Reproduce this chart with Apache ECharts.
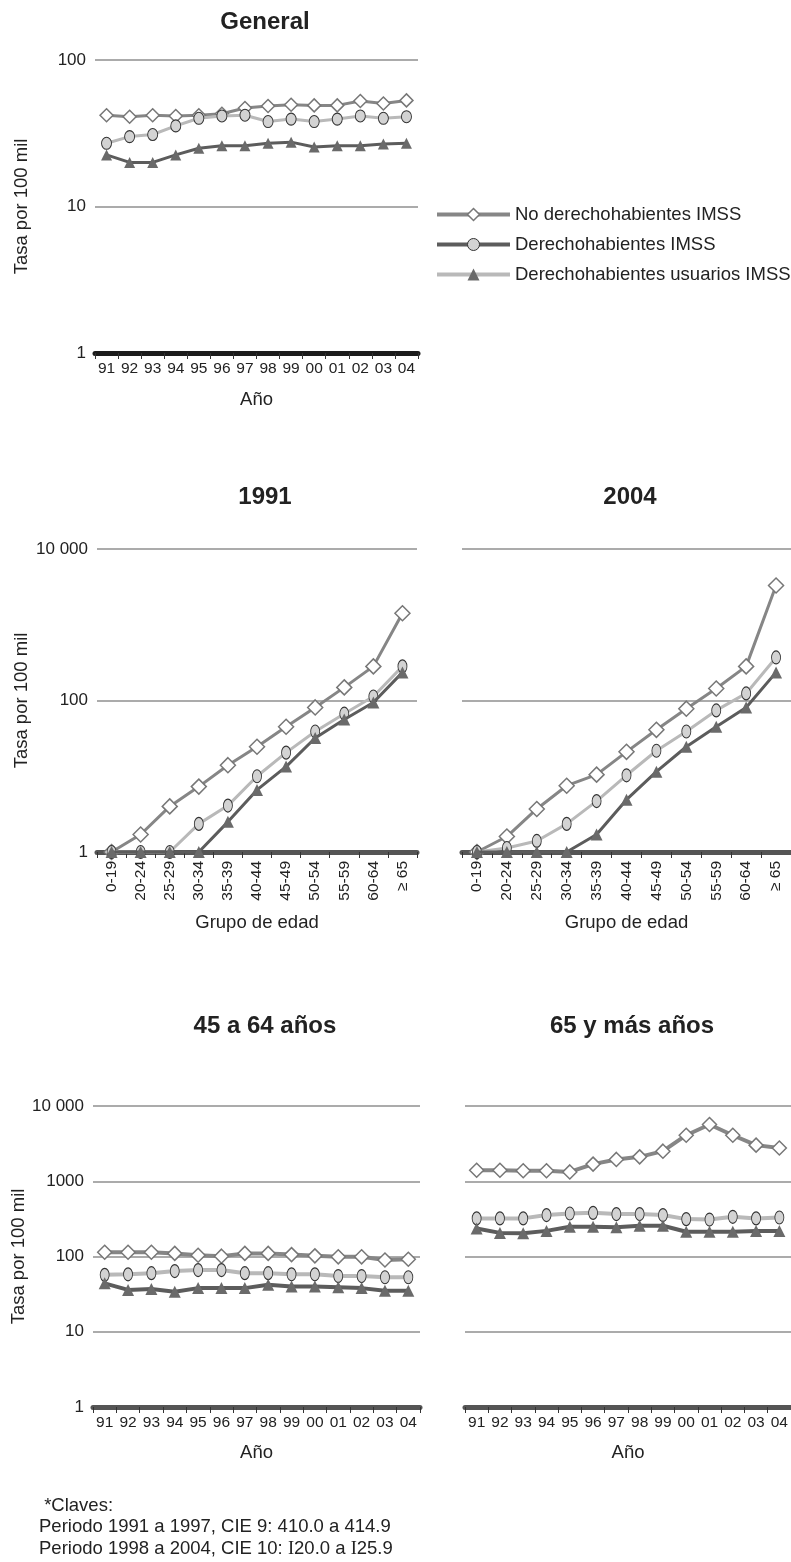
<!DOCTYPE html>
<html>
<head>
<meta charset="UTF-8">
<title>Tasa por 100 mil</title>
<script src="https://cdn.jsdelivr.net/npm/echarts@6/dist/echarts.min.js"></script>
<style>
html, body { margin: 0; padding: 0; background: #fff; }
#main { width: 791px; height: 1562px; }
</style>
</head>
<body>
<div id="main"></div>
<script>
// categorias
var years = ['91', '92', '93', '94', '95', '96', '97', '98', '99', '00', '01', '02', '03', '04'];
var ageGroups = ['0-19', '20-24', '25-29', '30-34', '35-39', '40-44', '45-49', '50-54', '55-59', '60-64', '≥ 65'];
var seriesNames = ['No derechohabientes IMSS', 'Derechohabientes IMSS', 'Derechohabientes usuarios IMSS'];

// General
var noDerGeneral = [42, 41, 42, 41.5, 42, 43, 47, 48.5, 49.5, 49, 49, 52.5, 50.5, 53];
var derGeneral = [27, 30, 31, 35.5, 40, 41.5, 42, 38, 39.5, 38, 39.5, 41.5, 40, 41];
var usuGeneral = [22.5, 20, 20, 22.5, 25, 26, 26, 27, 27.5, 25.5, 26, 26, 26.7, 27];

// 1991 por grupo de edad
var noDer1991 = [1, 1.7, 4, 7.3, 14, 24.5, 45, 81, 149, 282, 1420];
var der1991 = [1, 1, 1, 2.35, 4.1, 10, 20.5, 39, 67, 113, 282];
var usu1991 = [1, 1, 1, 1, 2.5, 6.6, 13.4, 32, 56, 94, 235];

// 2004 por grupo de edad
var noDer2004 = [1, 1.6, 3.7, 7.5, 10.5, 21, 41, 78, 144, 282, 3300];
var der2004 = [1, 1.13, 1.4, 2.35, 4.7, 10.3, 21.7, 39, 74, 124, 370];
var usu2004 = [1, 1, 1, 1, 1.7, 4.9, 11.5, 24.5, 45, 81, 235];

// 45 a 64 años
var noDer4564 = [114, 114, 114, 110, 104, 101, 110, 110, 106, 102, 99, 99, 90, 92];
var der4564 = [57, 58, 60, 64, 66, 66, 60, 60, 58, 58, 55, 55, 53, 53];
var usu4564 = [44, 36, 37, 34, 38, 38, 38, 42, 40, 40, 39, 38, 35, 35];

// 65 y más años
var noDer65 = [1400, 1400, 1380, 1380, 1330, 1690, 1950, 2110, 2510, 4090, 5680, 4090, 3020, 2770];
var der65 = [321, 321, 321, 355, 373, 380, 366, 366, 355, 314, 310, 337, 321, 330];
var usu65 = [236, 206, 203, 219, 248, 248, 244, 256, 256, 213, 213, 213, 219, 219];

var FONT = '"Liberation Sans", Arial, Helvetica, sans-serif';
var TXT = '#222';
var GRIDC = '#ababab';

function fmt(v) {
    var r = Math.round(v);
    return r === 10000 ? '10 000' : String(r);
}

function xAx(i, cats, axColor, rotate, name, gap) {
    return {
        gridIndex: i, type: 'category', data: cats, boundaryGap: true,
        axisLine: { lineStyle: { color: axColor, width: 5 } },
        axisTick: { show: true, length: 6, lineStyle: { color: '#333', width: 1 } },
        axisLabel: { interval: 0, rotate: rotate, fontSize: 15.5, color: TXT, fontFamily: FONT, margin: rotate ? 9 : 8 },
        name: name, nameLocation: 'middle', nameGap: gap,
        nameTextStyle: { fontSize: 18.5, color: TXT, fontFamily: FONT },
        splitLine: { show: false }
    };
}

function yAx(i, base, max, showLabel, gap) {
    return {
        gridIndex: i, type: 'log', logBase: base, min: 1, max: max,
        axisLine: { show: false }, axisTick: { show: false },
        splitLine: { show: true, lineStyle: { color: GRIDC, width: 2 } },
        axisLabel: { show: showLabel, formatter: fmt, fontSize: 17, color: TXT, fontFamily: FONT, margin: 9 },
        name: showLabel ? 'Tasa por 100 mil' : '', nameLocation: 'middle', nameGap: gap,
        nameTextStyle: { fontSize: 18.5, color: TXT, fontFamily: FONT }
    };
}

function trio(i, a, b, c, o) {
    return [
        {
            name: seriesNames[0], type: 'line', xAxisIndex: i, yAxisIndex: i, data: a, clip: false,
            symbol: 'diamond', symbolSize: o.ds,
            lineStyle: { color: '#868686', width: o.lw },
            itemStyle: { color: '#fff', borderColor: '#777', borderWidth: 1.5 }, z: 2
        },
        {
            name: seriesNames[1], type: 'line', xAxisIndex: i, yAxisIndex: i, data: b, clip: false,
            symbol: 'circle', symbolSize: o.cs,
            lineStyle: { color: '#b9b9b9', width: o.lw },
            itemStyle: { color: '#d3d3d3', borderColor: '#333', borderWidth: 1 }, z: 3
        },
        {
            name: seriesNames[2], type: 'line', xAxisIndex: i, yAxisIndex: i, data: c, clip: false,
            symbol: 'triangle', symbolSize: o.ts,
            lineStyle: { color: '#5c5c5c', width: o.lw },
            itemStyle: { color: '#6a6a6a', borderWidth: 0 }, z: 4
        }
    ];
}

var small = { ds: 13, cs: [10, 12], ts: 11, lw: 3 };
var mid = { ds: 15, cs: [9, 13], ts: 12, lw: 3 };
var big = { ds: 14, cs: [9, 13], ts: 12, lw: 4 };

function ttl(text, x, y) {
    return {
        text: text, left: x, top: y, padding: 0, textAlign: 'center', textVerticalAlign: 'middle',
        textStyle: { fontSize: 24, fontWeight: 'bold', color: TXT, fontFamily: FONT }
    };
}

var option = {
    animation: false,
    backgroundColor: '#fff',
    title: [
        ttl('General', 265, 22),
        ttl('1991', 265, 497),
        ttl('2004', 630, 497),
        ttl('45 a 64 años', 265, 1026),
        ttl('65 y más años', 632, 1026)
    ],
    legend: {
        orient: 'vertical', left: 430, top: 200,
        itemWidth: 73, itemHeight: 15, itemGap: 11,
        textStyle: { fontSize: 18.5, color: TXT, fontFamily: FONT },
        data: [
            { name: seriesNames[0], lineStyle: { color: '#868686', width: 4 }, itemStyle: { color: '#fff', borderColor: '#777', borderWidth: 1.5 } },
            { name: seriesNames[1], lineStyle: { color: '#5c5c5c', width: 4 }, itemStyle: { color: '#d3d3d3', borderColor: '#333', borderWidth: 1 } },
            { name: seriesNames[2], lineStyle: { color: '#b9b9b9', width: 4 }, itemStyle: { color: '#6a6a6a', borderWidth: 0 } }
        ]
    },
    grid: [
        { left: 95, top: 60, width: 323, height: 293, outerBoundsMode: 'none' },
        { left: 97, top: 549, width: 320, height: 303, outerBoundsMode: 'none' },
        { left: 462, top: 549, width: 329, height: 303, outerBoundsMode: 'none' },
        { left: 93, top: 1106, width: 327, height: 301, outerBoundsMode: 'none' },
        { left: 465, top: 1106, width: 326, height: 301, outerBoundsMode: 'none' }
    ],
    xAxis: [
        xAx(0, years, '#1c1c1c', 0, 'Año', 37),
        xAx(1, ageGroups, '#555', 90, 'Grupo de edad', 61),
        xAx(2, ageGroups, '#555', 90, 'Grupo de edad', 61),
        xAx(3, years, '#555', 0, 'Año', 36),
        xAx(4, years, '#555', 0, 'Año', 36)
    ],
    yAxis: [
        yAx(0, 10, 100, true, 64),
        yAx(1, 100, 10000, true, 66),
        yAx(2, 100, 10000, false, 0),
        yAx(3, 10, 10000, true, 62),
        yAx(4, 10, 10000, false, 0)
    ],
    graphic: [{
        type: 'text', left: 39, top: 1495,
        style: {
            text: ' *Claves:\nPeriodo 1991 a 1997, CIE 9: 410.0 a 414.9\nPeriodo 1998 a 2004, CIE 10: {r|I}20.0 a {r|I}25.9',
            font: '18.5px "Liberation Sans", Arial, sans-serif',
            lineHeight: 21.5, fill: TXT,
            rich: { r: { fontFamily: '"Liberation Serif", serif', fontSize: 18.5, lineHeight: 21.5, fill: TXT } }
        }
    }],
    series: [].concat(
        trio(0, noDerGeneral, derGeneral, usuGeneral, small),
        trio(1, noDer1991, der1991, usu1991, mid),
        trio(2, noDer2004, der2004, usu2004, mid),
        trio(3, noDer4564, der4564, usu4564, big),
        trio(4, noDer65, der65, usu65, big)
    )
};

var myChart = echarts.init(document.getElementById('main'));
myChart.setOption(option);
</script>
</body>
</html>
